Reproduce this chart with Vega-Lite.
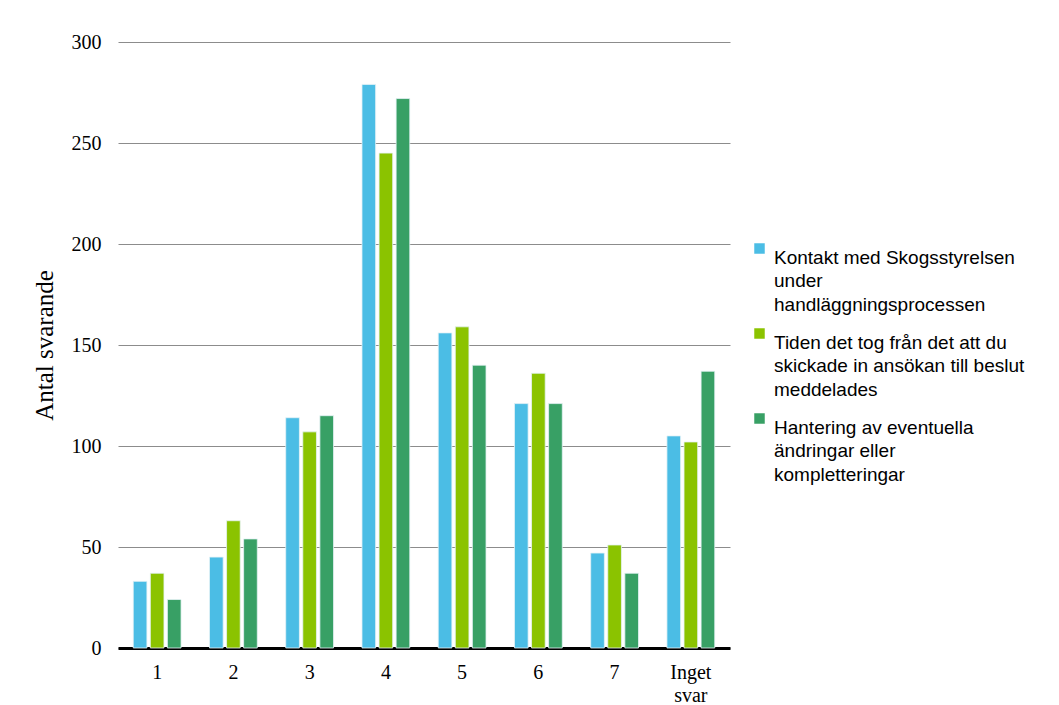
{
  "$schema": "https://vega.github.io/schema/vega-lite/v6.json",
  "width": 612,
  "height": 606,
  "autosize": {"type": "none"},
  "padding": {"left": 118, "top": 42, "right": 329, "bottom": 57},
  "background": "white",
  "config": {"view": {"stroke": null}, "style": {"guide-label": {"lineHeight": 23.5}}},
  "data": {"values": [
    {"k": "1", "s": "Kontakt med Skogsstyrelsen|under|handläggningsprocessen", "v": 33},
    {"k": "1", "s": "Tiden det tog från det att du|skickade in ansökan till beslut|meddelades", "v": 37},
    {"k": "1", "s": "Hantering av eventuella|ändringar eller|kompletteringar", "v": 24},
    {"k": "2", "s": "Kontakt med Skogsstyrelsen|under|handläggningsprocessen", "v": 45},
    {"k": "2", "s": "Tiden det tog från det att du|skickade in ansökan till beslut|meddelades", "v": 63},
    {"k": "2", "s": "Hantering av eventuella|ändringar eller|kompletteringar", "v": 54},
    {"k": "3", "s": "Kontakt med Skogsstyrelsen|under|handläggningsprocessen", "v": 114},
    {"k": "3", "s": "Tiden det tog från det att du|skickade in ansökan till beslut|meddelades", "v": 107},
    {"k": "3", "s": "Hantering av eventuella|ändringar eller|kompletteringar", "v": 115},
    {"k": "4", "s": "Kontakt med Skogsstyrelsen|under|handläggningsprocessen", "v": 279},
    {"k": "4", "s": "Tiden det tog från det att du|skickade in ansökan till beslut|meddelades", "v": 245},
    {"k": "4", "s": "Hantering av eventuella|ändringar eller|kompletteringar", "v": 272},
    {"k": "5", "s": "Kontakt med Skogsstyrelsen|under|handläggningsprocessen", "v": 156},
    {"k": "5", "s": "Tiden det tog från det att du|skickade in ansökan till beslut|meddelades", "v": 159},
    {"k": "5", "s": "Hantering av eventuella|ändringar eller|kompletteringar", "v": 140},
    {"k": "6", "s": "Kontakt med Skogsstyrelsen|under|handläggningsprocessen", "v": 121},
    {"k": "6", "s": "Tiden det tog från det att du|skickade in ansökan till beslut|meddelades", "v": 136},
    {"k": "6", "s": "Hantering av eventuella|ändringar eller|kompletteringar", "v": 121},
    {"k": "7", "s": "Kontakt med Skogsstyrelsen|under|handläggningsprocessen", "v": 47},
    {"k": "7", "s": "Tiden det tog från det att du|skickade in ansökan till beslut|meddelades", "v": 51},
    {"k": "7", "s": "Hantering av eventuella|ändringar eller|kompletteringar", "v": 37},
    {"k": "Inget svar", "s": "Kontakt med Skogsstyrelsen|under|handläggningsprocessen", "v": 105},
    {"k": "Inget svar", "s": "Tiden det tog från det att du|skickade in ansökan till beslut|meddelades", "v": 102},
    {"k": "Inget svar", "s": "Hantering av eventuella|ändringar eller|kompletteringar", "v": 137}
  ]},
  "mark": {"type": "bar", "stroke": "#e6f2f6", "strokeWidth": 0.8},
  "encoding": {
    "x": {
      "field": "k", "type": "nominal", "sort": null,
      "scale": {"paddingInner": 0.373, "paddingOuter": 0.2},
      "axis": {
        "title": null, "labelAngle": 0, "labelFont": "Liberation Serif", "labelFontSize": 20,
        "labelColor": "#000", "labelPadding": 14, "ticks": false,
        "domainColor": "#000", "domainWidth": 3,
        "labelExpr": "split(datum.label, ' ')", "labelLineHeight": 23
      }
    },
    "xOffset": {
      "field": "s", "type": "nominal", "sort": null,
      "scale": {"paddingInner": 0.2, "paddingOuter": 0}
    },
    "y": {
      "field": "v", "type": "quantitative",
      "scale": {"domain": [0, 300], "nice": false},
      "axis": {
        "title": "Antal svarande", "titleFont": "Liberation Serif", "titleFontSize": 25,
        "titleFontWeight": "normal", "titleColor": "#000", "titlePadding": 14,
        "values": [0, 50, 100, 150, 200, 250, 300],
        "labelFont": "Liberation Serif", "labelFontSize": 20, "labelColor": "#000",
        "labelPadding": 17, "ticks": false, "domain": false,
        "grid": true, "gridColor": "#8c8c8c", "gridWidth": 1
      }
    },
    "color": {
      "field": "s", "type": "nominal", "sort": null,
      "scale": {
        "domain": [
          "Kontakt med Skogsstyrelsen|under|handläggningsprocessen",
          "Tiden det tog från det att du|skickade in ansökan till beslut|meddelades",
          "Hantering av eventuella|ändringar eller|kompletteringar"
        ],
        "range": ["#4bbde5", "#8bc300", "#38a065"]
      },
      "legend": {
        "title": null, "orient": "none", "legendX": 632, "legendY": 197,
        "symbolType": "square", "symbolSize": 110, "symbolStrokeWidth": 0,
        "labelFont": "Liberation Sans", "labelFontSize": 19, "labelColor": "#000",
        "labelLimit": 0, "labelExpr": "split(datum.label, '|')",
        "labelOffset": 5, "rowPadding": 9, "labelBaseline": "top"
      }
    }
  }
}
